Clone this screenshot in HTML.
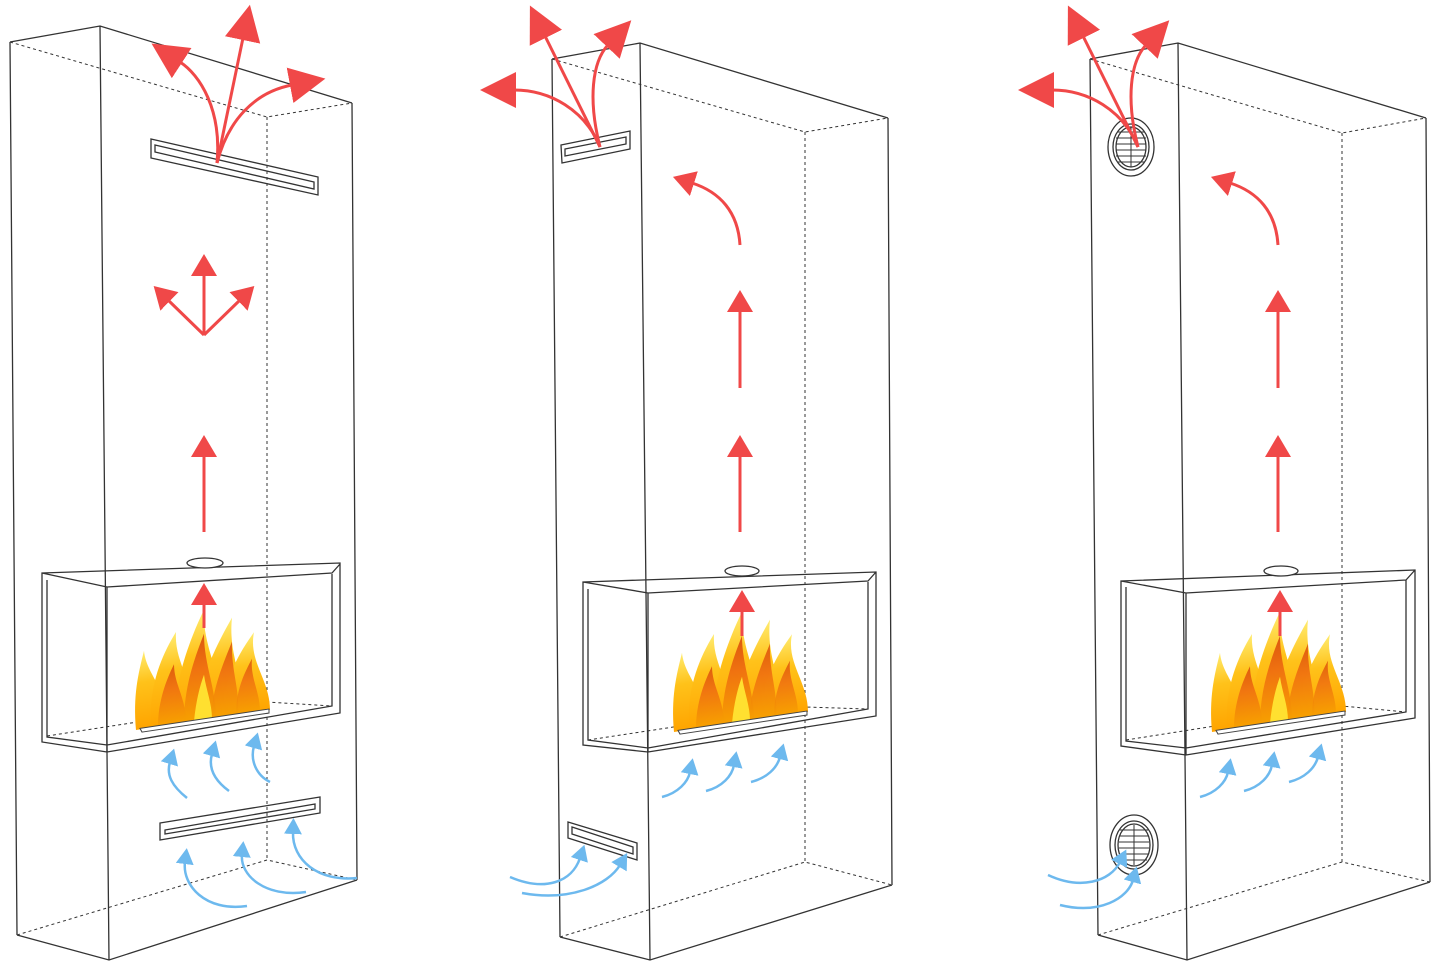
<!DOCTYPE html>
<html><head><meta charset="utf-8"><style>html,body{margin:0;padding:0;background:#fff}svg{display:block}</style></head>
<body>
<svg width="1445" height="961" viewBox="0 0 1445 961" xmlns="http://www.w3.org/2000/svg">
<defs>
<marker id="rb" markerUnits="userSpaceOnUse" markerWidth="40" markerHeight="40" refX="2" refY="18" orient="auto"><path d="M0,0 L36,18 L0,36 Z" fill="#f04848"/></marker>
<marker id="rm" markerUnits="userSpaceOnUse" markerWidth="26" markerHeight="28" refX="2" refY="13" orient="auto"><path d="M0,0 L22,13 L0,26 Z" fill="#f04848"/></marker>
<marker id="bl" markerUnits="userSpaceOnUse" markerWidth="20" markerHeight="20" refX="2" refY="9" orient="auto"><path d="M0,0 L16,9 L0,18 Z" fill="#6db9ee"/></marker>
<linearGradient id="fo" x1="0" y1="1" x2="0" y2="0"><stop offset="0" stop-color="#ffa400"/><stop offset="0.6" stop-color="#ffc21a"/><stop offset="1" stop-color="#ffec70"/></linearGradient>
<linearGradient id="fi" x1="0" y1="1" x2="0" y2="0"><stop offset="0" stop-color="#f6a000"/><stop offset="0.6" stop-color="#ee6a10"/><stop offset="1" stop-color="#d84a0a"/></linearGradient>
<g id="flame">
<g transform="matrix(1,-0.15,0,1,0,0)">
<path d="M0,0 C-3,-35 2,-55 8,-78 C10,-55 30,-38 35,0 Z" fill="url(#fo)"/>
<path d="M15,0 C12,-40 25,-70 40,-92 C38,-62 58,-40 60,0 Z" fill="url(#fo)"/>
<path d="M38,0 C38,-45 55,-85 68,-110 C66,-72 88,-40 86,0 Z" fill="url(#fo)"/>
<path d="M60,0 C62,-40 80,-72 96,-98 C92,-60 108,-40 106,0 Z" fill="url(#fo)"/>
<path d="M85,0 C88,-35 100,-58 118,-80 C112,-52 134,-30 134,0 Z" fill="url(#fo)"/>
<path d="M22,0 C22,-25 30,-45 38,-60 C38,-40 50,-25 50,0 Z" fill="url(#fi)" opacity="0.85"/>
<path d="M48,0 C48,-35 58,-62 68,-86 C68,-55 80,-30 80,0 Z" fill="url(#fi)" opacity="0.9"/>
<path d="M75,0 C76,-30 88,-55 96,-74 C95,-45 104,-25 102,0 Z" fill="url(#fi)" opacity="0.85"/>
<path d="M100,0 C100,-25 108,-40 116,-54 C114,-35 124,-20 124,0 Z" fill="url(#fi)" opacity="0.8"/>
<path d="M58,0 C60,-20 64,-35 68,-45 C70,-30 76,-15 76,0 Z" fill="#ffe030"/>
<path d="M4,-1 L133,-1 L133,3 L6,3 Z" fill="#fff" stroke="#444" stroke-width="1"/>
</g>
</g>
</defs>
<g fill="none" stroke="#333" stroke-width="1.3">
<path d="M10,42 L100,26 L352,103 M10,42 L17,935 M100,26 L109,960 M352,103 L357,880 M17,935 L109,960 L357,880"/>
<path d="M10,42 L267,117 L352,103 M267,117 L267,860 M17,935 L267,860 L357,880" stroke-dasharray="3,3" stroke-width="1"/>
<path d="M151,139 L318,177 L318,195 L151,158 Z M155,145 L314,182 L314,189 L155,152 Z"/>
<path d="M160,823 L320,797 L320,813 L160,840 Z M165,830 L315,804 L315,809 L165,834 Z"/>
<path d="M42,573 L340,563 L340,713 L107,752 L42,742 Z M42,573 L107,587 L332,573 L340,564 M47,580 L47,737 L107,745 L332,706 L332,574 M107,587 L107,752"/>
<path d="M47,736 L267,702 L332,706" stroke-dasharray="3,3" stroke-width="1"/>
<ellipse cx="205" cy="563" rx="18" ry="5" fill="#fff"/>
<path d="M552,59 L640,43 L888,118 M552,59 L560,937 M640,43 L650,960 M888,118 L892,885 M560,937 L650,960 L892,885"/>
<path d="M552,59 L805,132 L888,118 M805,132 L805,862 M560,937 L805,862 L892,885" stroke-dasharray="3,3" stroke-width="1"/>
<path d="M561,145 L630,131 L630,149 L562,163 Z M565,149 L626,137 L626,144 L565,156 Z"/>
<path d="M568,822 L637,843 L637,860 L568,838 Z M572,827 L633,847 L633,854 L572,834 Z"/>
<path d="M583,582 L876,572 L876,716 L648,752 L583,745 Z M583,582 L648,593 L868,581 L876,572 M588,589 L588,740 L648,748 L868,709 L868,582 M648,593 L648,752"/>
<path d="M588,740 L805,707 L868,709" stroke-dasharray="3,3" stroke-width="1"/>
<ellipse cx="742" cy="571" rx="17" ry="5" fill="#fff"/>
<path d="M1090,59 L1178,43 L1426,118 M1090,59 L1098,935 M1178,43 L1187,960 M1426,118 L1430,882 M1098,935 L1187,960 L1430,882"/>
<path d="M1090,59 L1342,133 L1426,118 M1342,133 L1342,862 M1098,935 L1342,862 L1430,882" stroke-dasharray="3,3" stroke-width="1"/>
<ellipse cx="1131" cy="147" rx="23" ry="29"/><ellipse cx="1131" cy="147" rx="18" ry="23"/><ellipse cx="1131" cy="147" rx="15" ry="20"/>
<path d="M1117,132 H1145 M1116,138 H1146 M1116,144 H1146 M1116,150 H1146 M1116,156 H1146 M1118,162 H1144 M1131,127 V167" stroke-width="1"/>
<ellipse cx="1134" cy="845" rx="24" ry="30"/><ellipse cx="1134" cy="845" rx="19" ry="24"/><ellipse cx="1134" cy="845" rx="16" ry="21"/>
<path d="M1120,830 H1148 M1119,836 H1149 M1119,842 H1149 M1119,848 H1149 M1119,854 H1149 M1121,860 H1147 M1134,825 V865" stroke-width="1"/>
<path d="M1121,581 L1415,570 L1415,718 L1186,755 L1121,746 Z M1121,581 L1186,593 L1406,580 L1415,570 M1126,587 L1126,741 L1186,748 L1406,712 L1406,580 M1186,593 L1186,755"/>
<path d="M1126,740 L1342,706 L1406,712" stroke-dasharray="3,3" stroke-width="1"/>
<ellipse cx="1281" cy="571" rx="17" ry="5" fill="#fff"/>
</g>
<use href="#flame" x="136" y="730"/>
<use href="#flame" x="674" y="732"/>
<use href="#flame" x="1212" y="732"/>
<g fill="none" stroke="#f04848" stroke-width="3">
<path d="M217,163 C222,110 200,75 180,62" marker-end="url(#rb)"/>
<path d="M217,163 L243,38" marker-end="url(#rb)"/>
<path d="M217,163 C228,120 255,92 292,85" marker-end="url(#rb)"/>
<path d="M204,335 L204,274" marker-end="url(#rm)"/>
<path d="M204,335 L168,300" marker-end="url(#rm)"/>
<path d="M204,335 L240,300" marker-end="url(#rm)"/>
<path d="M204,532 L204,455" marker-end="url(#rm)"/>
<path d="M204,628 L204,603" marker-end="url(#rm)"/>
<path d="M600,147 L545,36" marker-end="url(#rb)"/>
<path d="M600,147 C585,110 550,90 514,90" marker-end="url(#rb)"/>
<path d="M600,147 C588,100 592,62 608,45" marker-end="url(#rb)"/>
<path d="M740,245 C738,212 720,192 692,183" marker-end="url(#rm)"/>
<path d="M740,388 L740,310" marker-end="url(#rm)"/>
<path d="M740,532 L740,455" marker-end="url(#rm)"/>
<path d="M742,636 L742,610" marker-end="url(#rm)"/>
<path d="M1138,147 L1083,36" marker-end="url(#rb)"/>
<path d="M1138,147 C1123,110 1088,90 1052,90" marker-end="url(#rb)"/>
<path d="M1138,147 C1126,100 1130,62 1146,45" marker-end="url(#rb)"/>
<path d="M1278,245 C1276,212 1258,192 1230,183" marker-end="url(#rm)"/>
<path d="M1278,388 L1278,310" marker-end="url(#rm)"/>
<path d="M1278,532 L1278,455" marker-end="url(#rm)"/>
<path d="M1280,636 L1280,610" marker-end="url(#rm)"/>
</g>
<g fill="none" stroke="#6db9ee" stroke-width="2.5">
<path d="M187,798 C172,786 166,775 170,762" marker-end="url(#bl)"/>
<path d="M229,791 C214,780 208,768 212,754" marker-end="url(#bl)"/>
<path d="M270,782 C256,775 250,760 254,746" marker-end="url(#bl)"/>
<path d="M247,906 C205,912 182,885 185,862" marker-end="url(#bl)"/>
<path d="M306,892 C265,898 240,875 242,855" marker-end="url(#bl)"/>
<path d="M357,878 C318,882 292,860 293,832" marker-end="url(#bl)"/>
<path d="M662,797 C678,793 688,782 690,772" marker-end="url(#bl)"/>
<path d="M706,791 C722,787 732,776 734,765" marker-end="url(#bl)"/>
<path d="M751,782 C767,778 777,768 780,757" marker-end="url(#bl)"/>
<path d="M510,877 C545,892 572,882 580,858" marker-end="url(#bl)"/>
<path d="M522,893 C570,902 608,885 620,865" marker-end="url(#bl)"/>
<path d="M1200,797 C1216,793 1226,782 1228,772" marker-end="url(#bl)"/>
<path d="M1244,791 C1260,787 1270,776 1272,765" marker-end="url(#bl)"/>
<path d="M1289,782 C1305,778 1315,768 1318,757" marker-end="url(#bl)"/>
<path d="M1048,875 C1080,890 1110,882 1120,862" marker-end="url(#bl)"/>
<path d="M1060,905 C1100,915 1128,898 1133,880" marker-end="url(#bl)"/>
</g>
</svg>
</body></html>
